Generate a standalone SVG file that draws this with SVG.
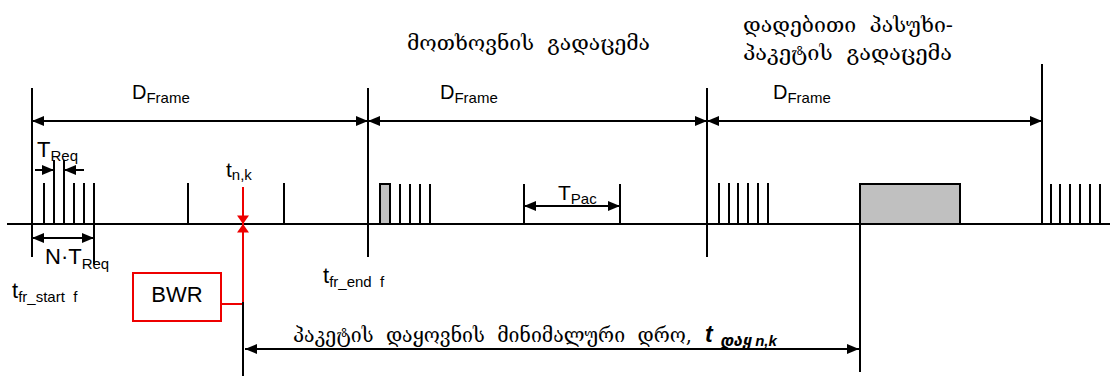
<svg xmlns="http://www.w3.org/2000/svg" width="1114" height="376" viewBox="0 0 1114 376">
<style>
.ln{stroke:#000;stroke-width:2;fill:none}
.rd{stroke:#e00;stroke-width:2;fill:none}
.lat{font-family:"Liberation Sans",Arial,sans-serif;fill:#000}
.geo{font-family:"DejaVu Serif","DejaVu Sans",serif;fill:#000;font-size:20px}
.big{font-size:21px}
.sub{font-size:15px}
.gray{fill:#c0c0c0;stroke:#000;stroke-width:2}
</style>
<defs>
<marker id="ah" viewBox="0 0 12 10" refX="12" refY="5" markerWidth="12" markerHeight="10" markerUnits="userSpaceOnUse" orient="auto-start-reverse">
<path d="M0,0 L12,5 L0,10 z" fill="#000"/>
</marker>
<marker id="ahr" viewBox="0 0 10 14" refX="10" refY="7" markerWidth="14" markerHeight="12" markerUnits="userSpaceOnUse" orient="auto-start-reverse">
<path d="M0,0 L10,7 L0,14 z" fill="#e00"/>
</marker>
</defs>
<rect width="1114" height="376" fill="#fff"/>

<g id="axis">
<line class="ln" x1="7" y1="224" x2="1110" y2="224"/>
</g>

<g id="frames">
<line class="ln" x1="32" y1="88" x2="32" y2="257"/>
<line class="ln" x1="368" y1="88" x2="368" y2="257"/>
<line class="ln" x1="707" y1="88" x2="707" y2="257"/>
<line class="ln" x1="1042" y1="64" x2="1042" y2="224"/>
</g>

<g id="ticks1">
<line class="ln" x1="44" y1="183" x2="44" y2="224"/>
<line class="ln" x1="54" y1="160" x2="54" y2="224"/>
<line class="ln" x1="64" y1="160" x2="64" y2="224"/>
<line class="ln" x1="74" y1="183" x2="74" y2="224"/>
<line class="ln" x1="84" y1="183" x2="84" y2="224"/>
<line class="ln" x1="94" y1="183" x2="94" y2="264"/>
<line class="ln" x1="188" y1="183" x2="188" y2="224"/>
<line class="ln" x1="284" y1="183" x2="284" y2="224"/>
</g>

<g id="ticks2">
<rect class="gray" x="380" y="184" width="10" height="40"/>
<line class="ln" x1="400" y1="184" x2="400" y2="224"/>
<line class="ln" x1="410" y1="184" x2="410" y2="224"/>
<line class="ln" x1="420" y1="184" x2="420" y2="224"/>
<line class="ln" x1="430" y1="184" x2="430" y2="224"/>
<line class="ln" x1="524" y1="184" x2="524" y2="224"/>
<line class="ln" x1="620" y1="184" x2="620" y2="224"/>
</g>

<g id="ticks3">
<line class="ln" x1="719" y1="183" x2="719" y2="224"/>
<line class="ln" x1="729" y1="183" x2="729" y2="224"/>
<line class="ln" x1="738" y1="183" x2="738" y2="224"/>
<line class="ln" x1="748" y1="183" x2="748" y2="224"/>
<line class="ln" x1="758" y1="183" x2="758" y2="224"/>
<line class="ln" x1="768" y1="183" x2="768" y2="224"/>
<rect class="gray" x="860" y="184" width="100" height="40"/>
<line class="ln" x1="860" y1="224" x2="860" y2="372"/>
</g>

<g id="ticks4">
<line class="ln" x1="1051" y1="184" x2="1051" y2="224"/>
<line class="ln" x1="1060" y1="184" x2="1060" y2="224"/>
<line class="ln" x1="1070" y1="184" x2="1070" y2="224"/>
<line class="ln" x1="1080" y1="184" x2="1080" y2="224"/>
<line class="ln" x1="1090" y1="184" x2="1090" y2="224"/>
<line class="ln" x1="1100" y1="184" x2="1100" y2="224"/>
</g>

<g id="connectors">
<line class="ln" x1="32" y1="121" x2="368" y2="121" marker-start="url(#ah)" marker-end="url(#ah)"/>
<line class="ln" x1="368" y1="121" x2="707" y2="121" marker-start="url(#ah)" marker-end="url(#ah)"/>
<line class="ln" x1="707" y1="121" x2="1042" y2="121" marker-start="url(#ah)" marker-end="url(#ah)"/>
<line class="ln" x1="35" y1="170" x2="54" y2="170" marker-end="url(#ah)"/>
<line class="ln" x1="84" y1="170" x2="64" y2="170" marker-end="url(#ah)"/>
<line class="ln" x1="32" y1="238" x2="94" y2="238" marker-start="url(#ah)" marker-end="url(#ah)"/>
<line class="ln" x1="524" y1="206" x2="620" y2="206" marker-start="url(#ah)" marker-end="url(#ah)"/>
<line class="rd" x1="243" y1="187" x2="243" y2="224" marker-end="url(#ahr)"/>
<line class="rd" x1="243" y1="304" x2="243" y2="224" marker-end="url(#ahr)"/>
<line class="rd" x1="221" y1="304" x2="243" y2="304"/>
<line class="ln" x1="243" y1="302" x2="243" y2="376"/>
<line class="ln" x1="245" y1="349" x2="859" y2="349" marker-start="url(#ah)" marker-end="url(#ah)"/>
</g>

<g id="bwr">
<rect x="133" y="273" width="88" height="48" fill="#fff" stroke="#e00" stroke-width="2"/>
<text class="lat" x="177" y="302" font-size="22" text-anchor="middle">BWR</text>
</g>

<g id="labels">
<text class="lat" font-size="20" x="132" y="99">D<tspan class="sub" dy="4">Frame</tspan></text>
<text class="lat" font-size="20" x="440" y="99">D<tspan class="sub" dy="4">Frame</tspan></text>
<text class="lat" font-size="20" x="773" y="99">D<tspan class="sub" dy="4">Frame</tspan></text>
<text class="lat" font-size="22" x="37" y="157">T<tspan class="sub" dy="4">Req</tspan></text>
<text class="lat big" x="226" y="177">t<tspan class="sub" dy="3">n,k</tspan></text>
<text class="lat" font-size="22" x="45" y="264">N·T<tspan class="sub" dy="5">Req</tspan></text>
<text class="lat" font-size="22" x="12" y="298">t<tspan class="sub" dy="4">fr_start&#160; f</tspan></text>
<text class="lat" font-size="22" x="323" y="283">t<tspan class="sub" dy="4">fr_end&#160; f</tspan></text>
<text class="lat big" x="558" y="200">T<tspan class="sub" dy="4">Pac</tspan></text>
</g>

<g id="georgian">
<text class="geo" x="407" y="50" textLength="243" lengthAdjust="spacingAndGlyphs">მოთხოვნის&#160; გადაცემა</text>
<text class="geo" x="743" y="32" textLength="210" lengthAdjust="spacingAndGlyphs">დადებითი&#160; პასუხი-</text>
<text class="geo" x="743" y="60" textLength="209" lengthAdjust="spacingAndGlyphs">პაკეტის&#160; გადაცემა</text>
<text class="geo" x="293" y="342" textLength="399" lengthAdjust="spacingAndGlyphs">პაკეტის&#160; დაყოვნის&#160; მინიმალური&#160; დრო,</text>
<text x="705" y="342" font-family="Liberation Sans,Arial,sans-serif" font-size="23" font-weight="bold" font-style="italic">t</text>
<text x="720" y="346" font-family="DejaVu Sans,sans-serif" font-size="16" font-weight="bold" font-style="italic">დაყ<tspan font-family="Liberation Sans,Arial,sans-serif" font-size="15" dx="4">n,k</tspan></text>
</g>
</svg>
